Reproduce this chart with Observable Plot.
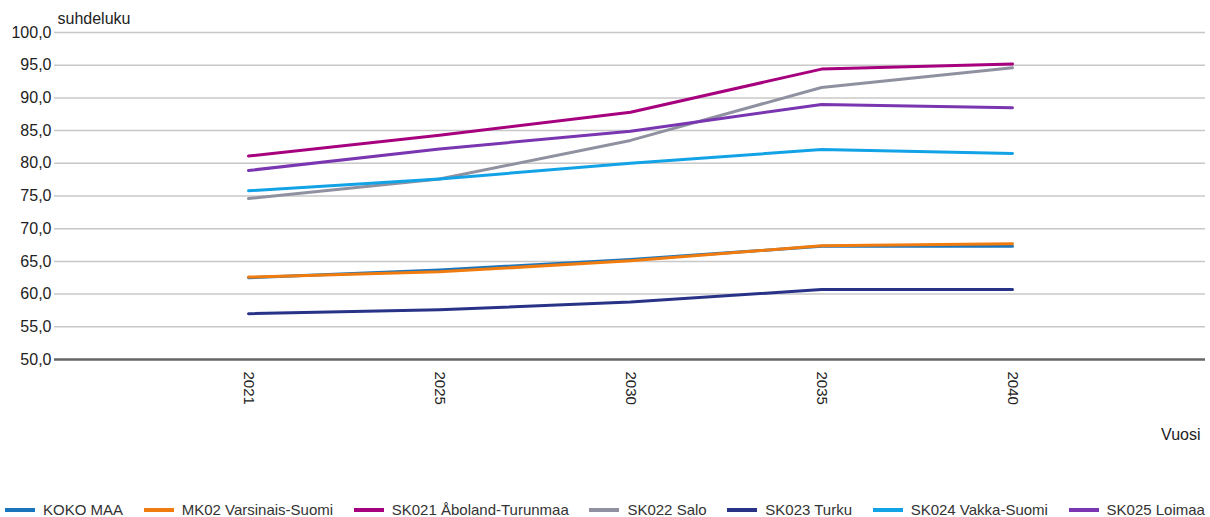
<!DOCTYPE html>
<html>
<head>
<meta charset="utf-8">
<script src="https://cdn.jsdelivr.net/npm/d3@7"></script>
<script src="https://cdn.jsdelivr.net/npm/@observablehq/plot@0.6"></script>
<style>
  html, body { margin: 0; padding: 0; background: #fff; }
  body { width: 1210px; height: 517px; overflow: hidden; position: relative; font-family: "Liberation Sans", Arial, sans-serif; }
  #chart { position: absolute; left: 0; top: 0; }
  #legend { position: absolute; left: 0; top: 500px; width: 1210px; box-sizing: border-box; padding: 0 5px 0 5px;
            display: flex; justify-content: space-between; align-items: center; font-size: 15px; color: #333; line-height: 20px; }
  .item { display: flex; align-items: center; white-space: nowrap; }
  .sw { display: inline-block; width: 30px; height: 4px; margin-right: 8px; }
</style>
</head>
<body>
<div id="chart"></div>
<div id="legend"></div>
<script>
const years = ["2021", "2025", "2030", "2035", "2040"];
const seriesNames = ["KOKO MAA", "MK02 Varsinais-Suomi", "SK021 Åboland-Turunmaa", "SK022 Salo", "SK023 Turku", "SK024 Vakka-Suomi", "SK025 Loimaa"];
const kokoMaa   = [62.5, 63.7, 65.3, 67.3, 67.3];
const varsinais = [62.6, 63.4, 65.1, 67.4, 67.7];
const aboland   = [81.1, 84.3, 87.8, 94.4, 95.2];
const salo      = [74.6, 77.6, 83.5, 91.6, 94.6];
const turku     = [57.0, 57.6, 58.8, 60.7, 60.7];
const vakka     = [75.8, 77.6, 80.0, 82.1, 81.5];
const loimaa    = [78.9, 82.2, 84.9, 89.0, 88.5];
const seriesValues = [kokoMaa, varsinais, aboland, salo, turku, vakka, loimaa];
const colors = ["#1b75bc", "#f07c10", "#a6007f", "#8f91a0", "#283388", "#12a2e6", "#7a35b0"];
const yTicks = [50, 55, 60, 65, 70, 75, 80, 85, 90, 95, 100];
const yLabel = "suhdeluku";
const xLabel = "Vuosi";

const data = seriesNames.flatMap((s, i) => seriesValues[i].map((v, j) => ({series: s, year: years[j], value: v})));

const chart = Plot.plot({
  width: 1210,
  height: 480,
  marginTop: 32,
  marginBottom: 121,
  marginLeft: 54,
  marginRight: 5,
  style: {fontFamily: "'Liberation Sans', Arial, sans-serif", fontSize: "16px", color: "#222", background: "#fff"},
  x: {type: "point", domain: years, padding: 1, label: null},
  y: {domain: [50, 100], label: null},
  color: {domain: seriesNames, range: colors},
  marks: [
    Plot.ruleY(yTicks.filter(t => t > 50), {stroke: "#c8c8c8", strokeWidth: 1.5}),
    Plot.ruleY([50], {stroke: "#666", strokeWidth: 2.5}),
    Plot.axisY({ticks: yTicks, tickSize: 0, tickPadding: 3, tickFormat: d => d.toFixed(1).replace(".", ","), label: null, fontSize: 16}),
    Plot.axisX({tickSize: 0, tickPadding: 12, tickRotate: 90, label: null, fontSize: 15}),
    Plot.lineY(data, {x: "year", y: "value", z: "series", stroke: "series", strokeWidth: 3}),
    Plot.text([yLabel], {frameAnchor: "top-left", text: d => d, dx: 3, dy: -14, textAnchor: "start", lineAnchor: "middle", fontSize: 16, fill: "#222"}),
    Plot.text([xLabel], {frameAnchor: "bottom-right", text: d => d, dx: -5, dy: 75, textAnchor: "end", lineAnchor: "middle", fontSize: 16, fill: "#222"})
  ]
});
document.getElementById("chart").appendChild(chart);

const legend = document.getElementById("legend");
seriesNames.forEach((s, i) => {
  const item = document.createElement("div");
  item.className = "item";
  const sw = document.createElement("span");
  sw.className = "sw";
  sw.style.background = colors[i];
  const t = document.createElement("span");
  t.textContent = s;
  item.appendChild(sw);
  item.appendChild(t);
  legend.appendChild(item);
});
</script>
</body>
</html>
